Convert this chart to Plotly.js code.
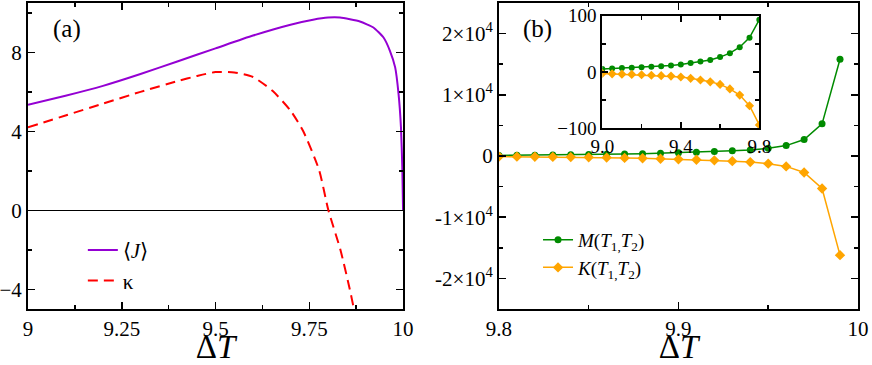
<!DOCTYPE html>
<html>
<head>
<meta charset="utf-8">
<script src="https://cdn.plot.ly/plotly-3.0.1.min.js"></script>
<style>
  body { margin: 0; background: #fff; }
  #chart { width: 872px; height: 365px; }
</style>
</head>
<body>
<div id="chart"></div>
<script>
// panel (a): current and kappa vs ΔT
let jX = [9.0, 9.1, 9.2, 9.3, 9.4, 9.5, 9.6, 9.7, 9.76, 9.8, 9.832, 9.885,
          9.921, 9.948, 9.965, 9.979, 9.988, 9.9945, 9.998, 10.0];
let jY = [5.35, 5.8, 6.3, 6.9, 7.55, 8.2, 8.85, 9.4, 9.65, 9.76, 9.76, 9.56,
          9.26, 8.75, 8.08, 7.24, 5.9, 4.2, 2.2, 0];
let kappaX = [9.0, 9.1, 9.2, 9.3, 9.4, 9.45, 9.5, 9.55, 9.6, 9.652, 9.7, 9.734,
              9.776, 9.801, 9.833, 9.858, 9.869, 9.89];
let kappaY = [4.2, 4.8, 5.4, 6.0, 6.55, 6.8, 7.0, 6.98, 6.75, 6.05, 5.05, 4.0,
              2.05, 0, -2, -4, -5, -7];

// panel (b): M and K near ΔT = 10
let bX = [9.80, 9.81, 9.82, 9.83, 9.84, 9.85, 9.86, 9.87, 9.88, 9.89,
          9.90, 9.91, 9.92, 9.93, 9.94, 9.95, 9.96, 9.97, 9.98, 9.99];
let mVals = [92, 110, 130, 155, 185, 225, 270, 320, 380, 450,
             530, 620, 720, 850, 1000, 1250, 1700, 2700, 5250, 15800];
let kVals = [-95, -110, -130, -150, -180, -220, -260, -310, -370, -440,
             -520, -610, -710, -840, -1000, -1250, -1700, -2700, -5300, -16200];

// inset: same quantities on 9.0 .. 9.8
let insetX = [9.0, 9.05, 9.1, 9.15, 9.2, 9.25, 9.3, 9.35, 9.4, 9.45, 9.5,
              9.55, 9.6, 9.65, 9.7, 9.75, 9.8];
let insetM = [5.4, 6.3, 7.0, 7.6, 8.3, 9.3, 10.2, 11.4, 13.5, 15.8, 18.5,
              21.5, 26.5, 33.5, 44, 61, 93];
let insetK = [-2.5, -3.3, -3.8, -4.3, -4.9, -5.8, -6.5, -7.3, -9, -11.3, -14.3,
              -17.5, -22, -30, -41, -60, -94];

let bTickVals = [-20000, -10000, 0, 10000, 20000];
let bTickText = ["-2×10<sup>4</sup>", "-1×10<sup>4</sup>", "0",
                 "1×10<sup>4</sup>", "2×10<sup>4</sup>"];

let serif = "Times New Roman";
let green = "#008b00";
let orange = "#ffa500";

function frame(extra) {
  let base = {
    showline: true, linecolor: "black", linewidth: 2, mirror: "allticks",
    ticks: "inside", ticklen: 7, tickwidth: 1.5, tickcolor: "black",
    showgrid: false, zeroline: false,
    tickfont: {family: serif, size: 21, color: "black"}
  };
  return Object.assign(base, extra);
}

function minorTicks(step, len) {
  return {ticks: "inside", ticklen: len || 4, tickwidth: 1.5, tickcolor: "black",
          dtick: step, showgrid: false};
}

let traceJ = {
  x: jX, y: jY, name: "⟨<i>J</i>⟩", mode: "lines", legend: "legend",
  line: {color: "#9400d3", width: 2, shape: "spline", smoothing: 0.5},
  xaxis: "x", yaxis: "y"
};
let traceKappa = {
  x: kappaX, y: kappaY, name: "κ", mode: "lines", legend: "legend",
  line: {color: "#ff0000", width: 2, dash: "10px,6px", shape: "spline", smoothing: 0.6},
  xaxis: "x", yaxis: "y"
};
let traceM = {
  x: bX, y: mVals, name: "<i>M</i>(<i>T</i><sub>1,</sub><i>T</i><sub>2</sub>)",
  mode: "lines+markers", legend: "legend2",
  line: {color: green, width: 1.5},
  marker: {color: green, size: 7, symbol: "circle"},
  xaxis: "x2", yaxis: "y2"
};
let traceK = {
  x: bX, y: kVals, name: "<i>K</i>(<i>T</i><sub>1,</sub><i>T</i><sub>2</sub>)",
  mode: "lines+markers", legend: "legend2",
  line: {color: orange, width: 1.5},
  marker: {color: orange, size: 8, symbol: "diamond"},
  xaxis: "x2", yaxis: "y2"
};
let traceInsetM = {
  x: insetX, y: insetM, mode: "lines+markers", showlegend: false,
  line: {color: green, width: 1.5},
  marker: {color: green, size: 6, symbol: "circle"},
  xaxis: "x3", yaxis: "y3"
};
let traceInsetK = {
  x: insetX, y: insetK, mode: "lines+markers", showlegend: false,
  line: {color: orange, width: 1.5},
  marker: {color: orange, size: 7, symbol: "diamond"},
  xaxis: "x3", yaxis: "y3"
};

let yDom = [0.1534, 0.9918];
let layout = {
  width: 872, height: 365,
  margin: {l: 0, r: 0, t: 0, b: 0},
  paper_bgcolor: "white", plot_bgcolor: "white",
  font: {family: serif, color: "black"},
  xaxis: frame({
    domain: [0.0321, 0.4622], range: [9, 10], dtick: 0.25, tick0: 9,
    minor: minorTicks(0.125),
    title: {text: "Δ<i>T</i>", font: {family: serif, size: 33}, standoff: 8},
    anchor: "y"
  }),
  yaxis: frame({
    domain: yDom, range: [-5, 10.5], dtick: 4, tick0: 0,
    minor: minorTicks(2),
    zeroline: true, zerolinecolor: "black", zerolinewidth: 1.5,
    anchor: "x"
  }),
  xaxis2: frame({
    domain: [0.5722, 0.9839], range: [9.8, 10], dtick: 0.1, tick0: 9.8,
    minor: minorTicks(0.05),
    title: {text: "Δ<i>T</i>", font: {family: serif, size: 33}, standoff: 8},
    anchor: "y2"
  }),
  yaxis2: frame({
    domain: yDom, range: [-25000, 25000], tickvals: bTickVals, ticktext: bTickText,
    minor: minorTicks(5000),
    anchor: "x2"
  }),
  xaxis3: frame({
    domain: [0.6907, 0.8708], range: [9.0, 9.8], dtick: 0.4, tick0: 9.0, tickformat: ".1f",
    tickfont: {family: serif, size: 19, color: "black"}, ticklen: 6,
    minor: minorTicks(0.2),
    anchor: "y3"
  }),
  yaxis3: frame({
    domain: [0.6485, 0.957], range: [-100, 100], dtick: 100, tick0: 0,
    tickfont: {family: serif, size: 19, color: "black"}, ticklen: 6,
    minor: minorTicks(50),
    anchor: "x3"
  }),
  legend: {
    x: 0.095, y: 0.37, xanchor: "left", yanchor: "top",
    bgcolor: "rgba(0,0,0,0)", font: {family: serif, size: 21},
    tracegroupgap: 0
  },
  legend2: {
    x: 0.617, y: 0.395, xanchor: "left", yanchor: "top",
    bgcolor: "rgba(0,0,0,0)", font: {family: serif, size: 19},
    tracegroupgap: 0
  },
  annotations: [
    {text: "(a)", xref: "paper", yref: "paper", x: 0.077, y: 0.92,
     xanchor: "center", yanchor: "middle",
     showarrow: false, font: {family: serif, size: 25}},
    {text: "(b)", xref: "paper", yref: "paper", x: 0.616, y: 0.92,
     xanchor: "center", yanchor: "middle",
     showarrow: false, font: {family: serif, size: 25}}
  ]
};

Plotly.newPlot("chart",
  [traceJ, traceKappa, traceM, traceK, traceInsetM, traceInsetK],
  layout, {staticPlot: true});
</script>
</body>
</html>
